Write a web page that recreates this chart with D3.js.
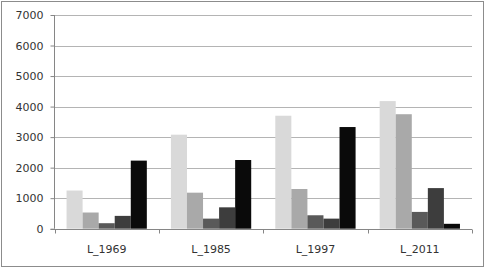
<!DOCTYPE html>
<html>
<head>
<meta charset="utf-8">
<script src="https://cdn.jsdelivr.net/npm/d3@7"></script>
<style>
body { margin: 0; background: #fff; }
text { font-family: "DejaVu Sans", sans-serif; }
</style>
</head>
<body>
<div id="mychart"></div>
<script>
const categories = ["L_1969", "L_1985", "L_1997", "L_2011"];
const seriesNames = ["S1", "S2", "S3", "S4", "S5"];
const seriesValues = [
    [1250, 3080, 3700, 4180],
    [530, 1180, 1300, 3750],
    [180, 330, 440, 550],
    [420, 700, 330, 1330],
    [2230, 2250, 3330, 160]
];
const yTicks = [0, 1000, 2000, 3000, 4000, 5000, 6000, 7000];
const colors = ["#d9d9d9", "#a9a9a9", "#595959", "#3d3d3d", "#0a0a0a"];

const width = 487;
const height = 269;
const margin = { top: 15, right: 15, bottom: 40, left: 54.5 };

const svg = d3.select("#mychart")
    .append("svg")
    .attr("width", width)
    .attr("height", height);

// outer frame
svg.append("rect")
    .attr("x", 1.5).attr("y", 1.5)
    .attr("width", 482).attr("height", 265)
    .attr("fill", "#fff")
    .attr("stroke", "#8c8c8c");

const x0 = d3.scaleBand()
    .domain(categories)
    .range([margin.left, 472])
    .paddingInner(0)
    .paddingOuter(0);

const x1 = d3.scaleBand()
    .domain(d3.range(seriesNames.length))
    .range([0, x0.bandwidth()])
    .paddingOuter(0.75 / 1)
    .paddingInner(0);

const y = d3.scaleLinear()
    .domain([0, 7000])
    .range([228.7, 15]);

// gridlines
svg.append("g")
    .selectAll("line")
    .data(yTicks.slice(1))
    .enter()
    .append("line")
    .attr("x1", margin.left)
    .attr("x2", 472)
    .attr("y1", d => Math.round(y(d)) + 0.5)
    .attr("y2", d => Math.round(y(d)) + 0.5)
    .attr("stroke", "#b4b4b4");

// bars
const data = [];
seriesValues.forEach((vals, s) => {
    vals.forEach((v, c) => data.push({ s, c, v }));
});

svg.append("g")
    .selectAll("rect")
    .data(data)
    .enter()
    .append("rect")
    .attr("x", d => x0(categories[d.c]) + x1(d.s))
    .attr("y", d => y(d.v))
    .attr("width", x1.bandwidth())
    .attr("height", d => y(0) - y(d.v))
    .attr("fill", d => colors[d.s]);

// y axis
const yAxis = svg.append("g")
    .attr("transform", `translate(${margin.left},0)`)
    .call(d3.axisLeft(y).tickValues(yTicks).tickSize(4).tickPadding(7).tickFormat(d3.format("d")));
yAxis.selectAll("text").attr("font-size", 11).attr("fill", "#333").attr("font-family", "DejaVu Sans");
yAxis.selectAll("line").attr("stroke", "#868686");
yAxis.select(".domain").attr("stroke", "#868686").attr("d", `M0,${y(7000)}V${y(0)}`);

// x axis
const xAxis = svg.append("g")
    .attr("transform", `translate(0,${Math.round(y(0)) + 0.5})`);
xAxis.append("line")
    .attr("x1", margin.left - 4).attr("x2", 472)
    .attr("stroke", "#868686");
xAxis.selectAll(".tk")
    .data(categories.map(c => x0(c)).concat([472]))
    .enter()
    .append("line")
    .attr("x1", d => Math.round(d) + 0.5)
    .attr("x2", d => Math.round(d) + 0.5)
    .attr("y1", 0).attr("y2", 4)
    .attr("stroke", "#868686");
xAxis.selectAll("text")
    .data(categories)
    .enter()
    .append("text")
    .attr("x", d => x0(d) + x0.bandwidth() / 2)
    .attr("y", 23)
    .attr("text-anchor", "middle")
    .attr("font-size", 11)
    .attr("fill", "#333")
    .text(d => d);
</script>
</body>
</html>
